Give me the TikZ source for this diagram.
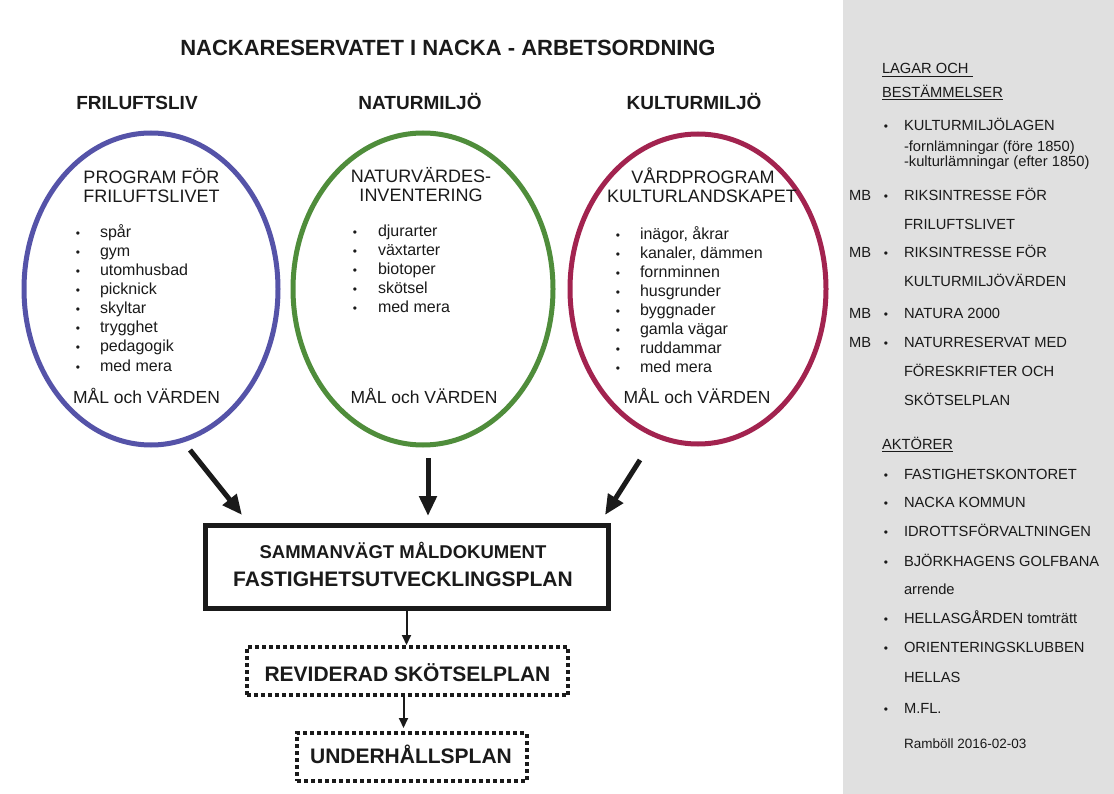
\documentclass[tikz,border=0pt]{standalone}
\usepackage{fontspec}
\setmainfont{Liberation Sans}
\usetikzlibrary{shapes.geometric,arrows.meta}
\definecolor{ink}{HTML}{1A1A1A}
\definecolor{eblue}{HTML}{5553A8}
\definecolor{egreen}{HTML}{4F8D3B}
\definecolor{ered}{HTML}{A2234F}
\definecolor{panelgray}{HTML}{E0E0E0}
\newcommand\fsz[1]{\fontsize{#1}{#1}\selectfont}
\begin{document}
\begin{tikzpicture}[x=1pt,y=-1pt,
  txt/.style={inner sep=0pt, outer sep=0pt, text=ink, anchor=base},
  txtl/.style={txt, anchor=base west},
  ttl/.style={txt, font=\fsz{22}\bfseries},
  hdr/.style={txt, font=\fsz{19}\bfseries},
  ehd/.style={txt, font=\fsz{18}},
  itm/.style={txtl, font=\fsz{16}},
  bl/.style={txt, font=\fsz{12}},
  gl/.style={txt, font=\fsz{17.5}},
  ring/.style={ellipse, draw=#1, line width=5pt, inner sep=0pt},
  ptx/.style={txtl, font=\fsz{14.7}},
  pbl/.style={txt, font=\fsz{12}},
  bigarr/.style={draw=ink, line width=5pt, -{Triangle[length=20pt,width=17pt]}},
  smallarr/.style={draw=ink, line width=2pt, -{Triangle[length=10pt,width=9pt]}},
  sbox/.style={draw=ink, line width=5pt, inner sep=0pt},
  dbox/.style={draw=ink, line width=4pt, dash pattern=on 4pt off 3pt, inner sep=0pt},
  uline/.style={draw=ink, line width=1.2pt},
]
\useasboundingbox (0,0) rectangle (1114,794);
\fill[white] (0,0) rectangle (1114,794);
\fill[panelgray] (843,0) rectangle (1114,794);

% title and headers
\node[ttl] (title) at (448,56) {NACKARESERVATET I NACKA - ARBETSORDNING};
\node[hdr] (h1) at (137,110) {FRILUFTSLIV};
\node[hdr] (h2) at (420,110) {NATURMILJÖ};
\node[hdr] (h3) at (694,110) {KULTURMILJÖ};

% ellipses
\node[ring=eblue, minimum width=254pt, minimum height=312pt] (e1) at (151,289) {};
\node[ring=egreen, minimum width=260pt, minimum height=312pt] (e2) at (423,289) {};
\node[ring=ered, minimum width=256pt, minimum height=310pt] (e3) at (698,289) {};

% ellipse 1
\node[ehd] (e1a) at (151.5,184) {PROGRAM FÖR};
\node[ehd] (e1b) at (151.5,203) {FRILUFTSLIVET};
\foreach \yy/\ss [count=\i] in {238/spår,257/gym,276/utomhusbad,295/picknick,314/skyltar,333/trygghet,352/pedagogik,371/med mera}{
  \node[bl] (e1d\i) at (78,\yy) {•};
  \node[itm] (e1i\i) at (100,\yy) {\ss};
}
\node[gl] (e1g) at (146.5,403) {MÅL och VÄRDEN};

% ellipse 2
\node[ehd] (e2a) at (421,183) {NATURVÄRDES-};
\node[ehd] (e2b) at (421,202) {INVENTERING};
\foreach \yy/\ss [count=\i] in {237/djurarter,256/växtarter,275/biotoper,294/skötsel,313/med mera}{
  \node[bl] (e2d\i) at (355,\yy) {•};
  \node[itm] (e2i\i) at (378,\yy) {\ss};
}
\node[gl] (e2g) at (424,403) {MÅL och VÄRDEN};

% ellipse 3
\node[ehd] (e3a) at (703,184) {VÅRDPROGRAM};
\node[ehd] (e3b) at (702,203) {KULTURLANDSKAPET};
\foreach \yy/\ss [count=\i] in {240/{inägor, åkrar},259/{kanaler, dämmen},278/fornminnen,297/husgrunder,316/byggnader,335/gamla vägar,354/ruddammar,373/med mera}{
  \node[bl] (e3d\i) at (618,\yy) {•};
  \node[itm] (e3i\i) at (640,\yy) {\ss};
}
\node[gl] (e3g) at (697,403) {MÅL och VÄRDEN};

% main boxes
\node[sbox, minimum width=403pt, minimum height=83pt] (b1) at (406.5,566.5) {};
\node[txt, font=\fsz{18.5}\bfseries] (b1a) at (403,558) {SAMMANVÄGT MÅLDOKUMENT};
\node[txt, font=\fsz{21}\bfseries] (b1b) at (403,586) {FASTIGHETSUTVECKLINGSPLAN};

\node[dbox, minimum width=321.5pt, minimum height=48pt] (b2) at (407.5,671) {};
\node[txt, font=\fsz{21}\bfseries] (b2a) at (407.5,681.7) {REVIDERAD SKÖTSELPLAN};

\node[dbox, minimum width=229.5pt, minimum height=48pt] (b3) at (412,757) {};
\node[txt, font=\fsz{21}\bfseries] (b3a) at (411,763) {UNDERHÅLLSPLAN};

% arrows into box 1
\coordinate (a1s) at (190,450); \coordinate (a1e) at (242,515);
\coordinate (a2s) at (428,458); \coordinate (a2e) at (428,516);
\coordinate (a3s) at (640,460); \coordinate (a3e) at (605,515);
\draw[bigarr] (a1s) -- (a1e);
\draw[bigarr] (a2s) -- (a2e);
\draw[bigarr] (a3s) -- (a3e);

% arrows between boxes
\draw[smallarr] (b1.south) -- (b1.south |- b2.north);
\draw[smallarr, shorten >=3pt] ([xshift=-4pt]b2.south) -- ([xshift=-4pt]b2.south |- b3.north);

% right panel
\node[ptx] (lag1) at (882,74) {LAGAR OCH};
\draw[uline] ([yshift=-2.5pt]lag1.base west) -- ([xshift=4pt,yshift=-2.5pt]lag1.base east);
\node[ptx] (lag2) at (882,97.3) {BESTÄMMELSER};
\draw[uline] ([yshift=-2.5pt]lag2.base west) -- ([yshift=-2.5pt]lag2.base east);

\node[pbl] (pb1) at (886,130.7) {•};
\node[ptx] (p1) at (904,130.7) {KULTURMILJÖLAGEN};
\node[ptx] (p1b) at (904,151.7) {-fornlämningar (före 1850)};
\node[ptx] (p1c) at (904,166.5) {-kulturlämningar (efter 1850)};

\node[ptx] (mb1) at (849,200.5) {MB};
\node[pbl] (pb2) at (886,200.5) {•};
\node[ptx] (p2) at (904,200.5) {RIKSINTRESSE FÖR};
\node[ptx] (p2b) at (904,229.5) {FRILUFTSLIVET};

\node[ptx] (mb2) at (849,258) {MB};
\node[pbl] (pb3) at (886,258) {•};
\node[ptx] (p3) at (904,258) {RIKSINTRESSE FÖR};
\node[ptx] (p3b) at (904,286.7) {KULTURMILJÖVÄRDEN};

\node[ptx] (mb3) at (849,318.3) {MB};
\node[pbl] (pb4) at (886,318.3) {•};
\node[ptx] (p4) at (904,318.3) {NATURA 2000};

\node[ptx] (mb4) at (849,347.3) {MB};
\node[pbl] (pb5) at (886,347.3) {•};
\node[ptx] (p5) at (904,347.3) {NATURRESERVAT MED};
\node[ptx] (p5b) at (904,376.7) {FÖRESKRIFTER OCH};
\node[ptx] (p5c) at (904,405.7) {SKÖTSELPLAN};

\node[ptx] (akt) at (882,449) {AKTÖRER};
\draw[uline] ([yshift=-2.5pt]akt.base west) -- ([yshift=-2.5pt]akt.base east);

\node[pbl] (qb1) at (886,479) {•};
\node[ptx] (q1) at (904,479) {FASTIGHETSKONTORET};
\node[pbl] (qb2) at (886,507) {•};
\node[ptx] (q2) at (904,507) {NACKA KOMMUN};
\node[pbl] (qb3) at (886,536) {•};
\node[ptx] (q3) at (904,536) {IDROTTSFÖRVALTNINGEN};
\node[pbl] (qb4) at (886,566.7) {•};
\node[ptx] (q4) at (904,566.7) {BJÖRKHAGENS GOLFBANA};
\node[ptx] (q4b) at (904,594) {arrende};
\node[pbl] (qb5) at (886,623.3) {•};
\node[ptx] (q5) at (904,623.3) {HELLASGÅRDEN tomträtt};
\node[pbl] (qb6) at (886,652.7) {•};
\node[ptx] (q6) at (904,652.7) {ORIENTERINGSKLUBBEN};
\node[ptx] (q6b) at (904,682.7) {HELLAS};
\node[pbl] (qb7) at (886,713) {•};
\node[ptx] (q7) at (904,713) {M.FL.};
\node[txtl, font=\fsz{13.5}] (ram) at (904,748) {Ramböll 2016-02-03};
\end{tikzpicture}
\end{document}
